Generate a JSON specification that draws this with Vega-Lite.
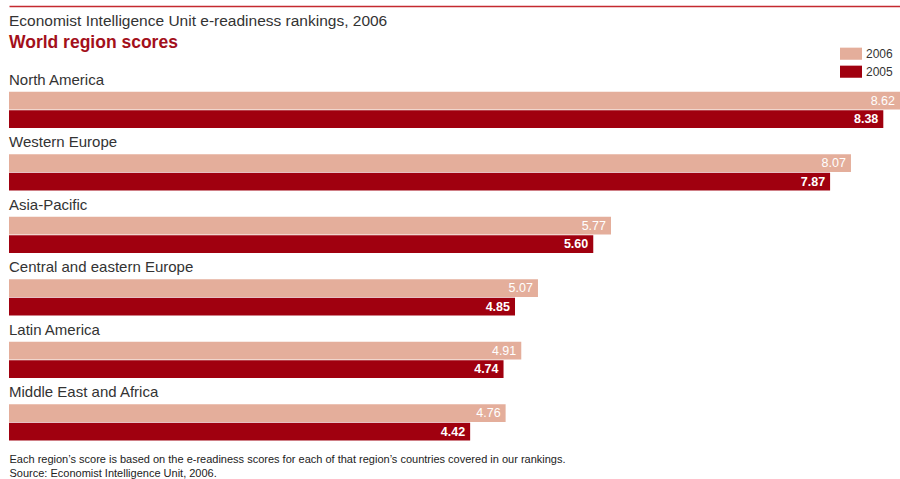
{
  "$schema": "https://vega.github.io/schema/vega-lite/v6.json",
  "width": 891,
  "height": 375,
  "autosize": {"type": "none"},
  "padding": {"left": 9, "top": 68.7, "right": 0, "bottom": 35.3},
  "background": "white",
  "config": {
    "view": {"stroke": null},
    "font": "Liberation Sans"
  },
  "title": {
    "text": "Economist Intelligence Unit e-readiness rankings, 2006",
    "subtitle": "World region scores",
    "anchor": "start",
    "frame": "group",
    "orient": "top",
    "offset": -46,
    "font": "Liberation Sans",
    "fontSize": 15.5,
    "fontWeight": "normal",
    "color": "#333333",
    "subtitleFont": "Liberation Sans",
    "subtitleFontSize": 17.5,
    "subtitleFontWeight": "bold",
    "subtitleColor": "#a3101b",
    "subtitlePadding": 5
  },
  "data": {
    "values": [
      {"region": "North America", "year": "2006", "value": 8.62},
      {"region": "North America", "year": "2005", "value": 8.38},
      {"region": "Western Europe", "year": "2006", "value": 8.07},
      {"region": "Western Europe", "year": "2005", "value": 7.87},
      {"region": "Asia-Pacific", "year": "2006", "value": 5.77},
      {"region": "Asia-Pacific", "year": "2005", "value": 5.60},
      {"region": "Central and eastern Europe", "year": "2006", "value": 5.07},
      {"region": "Central and eastern Europe", "year": "2005", "value": 4.85},
      {"region": "Latin America", "year": "2006", "value": 4.91},
      {"region": "Latin America", "year": "2005", "value": 4.74},
      {"region": "Middle East and Africa", "year": "2006", "value": 4.76},
      {"region": "Middle East and Africa", "year": "2005", "value": 4.42}
    ]
  },
  "encoding": {
    "y": {
      "field": "region",
      "type": "nominal",
      "sort": null,
      "axis": null,
      "scale": {"paddingInner": 0, "paddingOuter": 0}
    }
  },
  "layer": [
    {
      "mark": {"type": "bar"},
      "encoding": {
        "x": {
          "field": "value",
          "type": "quantitative",
          "scale": {"domain": [0, 8.54], "nice": false, "clamp": true, "zero": true},
          "axis": {
            "orient": "top",
            "offset": 62.7,
            "domain": true,
            "domainColor": "#c42a30",
            "domainWidth": 1.5,
            "ticks": false,
            "labels": false,
            "grid": false,
            "title": null
          }
        },
        "yOffset": {
          "field": "year",
          "type": "nominal",
          "scale": {"domain": ["2006", "2005"], "paddingInner": 0.03, "paddingOuter": 0.708, "align": 0.88}
        },
        "color": {
          "field": "year",
          "type": "nominal",
          "scale": {"domain": ["2006", "2005"], "range": ["#e4ae9b", "#a0000f"]},
          "legend": {
            "title": null,
            "orient": "none",
            "legendX": 831,
            "legendY": -26,
            "symbolType": "M-1,-0.55H1V0.55H-1Z",
            "symbolSize": 484,
            "symbolStrokeWidth": 0,
            "labelFont": "Liberation Sans",
            "labelFontSize": 12,
            "labelColor": "#333333",
            "labelOffset": 4,
            "rowPadding": 0
          }
        }
      }
    },
    {
      "transform": [{"filter": "datum.year == '2006'"}],
      "mark": {"type": "text", "align": "right", "baseline": "middle", "dx": -5, "color": "white", "fontSize": 12.5, "font": "Liberation Sans"},
      "encoding": {
        "x": {"field": "value", "type": "quantitative", "axis": null},
        "yOffset": {"field": "year", "type": "nominal"},
        "text": {"field": "value", "type": "quantitative", "format": ".2f"}
      }
    },
    {
      "transform": [{"filter": "datum.year == '2005'"}],
      "mark": {"type": "text", "align": "right", "baseline": "middle", "dx": -5, "color": "white", "fontSize": 12.5, "fontWeight": "bold", "font": "Liberation Sans"},
      "encoding": {
        "x": {"field": "value", "type": "quantitative", "axis": null},
        "yOffset": {"field": "year", "type": "nominal"},
        "text": {"field": "value", "type": "quantitative", "format": ".2f"}
      }
    },
    {
      "transform": [{"filter": "datum.year == '2006'"}],
      "mark": {"type": "text", "align": "left", "baseline": "middle", "dy": 11, "color": "#333333", "fontSize": 15, "font": "Liberation Sans"},
      "encoding": {
        "x": {
          "datum": 0,
          "type": "quantitative",
          "axis": {
            "orient": "bottom",
            "domain": false,
            "ticks": false,
            "labels": false,
            "grid": false,
            "title": ["Each region’s score is based on the e-readiness scores for each of that region’s countries covered in our rankings.", "Source: Economist Intelligence Unit, 2006."],
            "titleAnchor": "start",
            "titleAlign": "left",
            "titleBaseline": "top",
            "titlePadding": 10,
            "titleFont": "Liberation Sans",
            "titleFontSize": 11,
            "titleFontWeight": "normal",
            "titleColor": "#222222",
            "titleLineHeight": 14
          }
        },
        "y": {"field": "region", "type": "nominal", "sort": null, "bandPosition": 0},
        "text": {"field": "region"}
      }
    }
  ]
}
